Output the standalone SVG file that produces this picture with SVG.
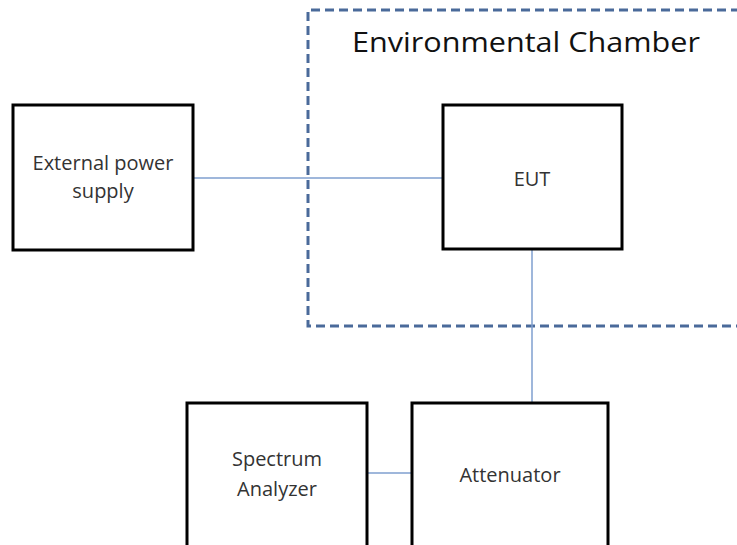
<svg xmlns="http://www.w3.org/2000/svg" width="737" height="545" viewBox="0 0 737 545">
<style>
.box{fill:#fff;stroke:#000;stroke-width:3}
.lbl{font-family:"Open Sans","Liberation Sans",sans-serif;font-size:20px;fill:#333;text-anchor:middle}
.conn{stroke:#7f9fcf;stroke-width:1.5;fill:none}
</style>
<rect width="737" height="545" fill="#fff"/>
<g id="chamber">
<path d="M740 10 H308 V326 H740" fill="none" stroke="#4a6a9a" stroke-width="3" stroke-dasharray="9,5"/>
<text x="526" y="52" font-family="Open Sans,Liberation Sans,sans-serif" font-size="27" fill="#111" text-anchor="middle" textLength="348" lengthAdjust="spacingAndGlyphs">Environmental Chamber</text>
</g>
<g id="connectors">
<line class="conn" x1="193" y1="178" x2="443" y2="178"/>
<line class="conn" x1="532" y1="249" x2="532" y2="403"/>
<line class="conn" x1="367" y1="473" x2="412" y2="473"/>
</g>
<g id="power">
<rect class="box" x="13" y="105" width="180" height="145"/>
<text class="lbl" x="103" y="170">External power</text>
<text class="lbl" x="103" y="198">supply</text>
</g>
<g id="eut">
<rect class="box" x="443" y="105" width="179" height="144"/>
<text class="lbl" x="532" y="186">EUT</text>
</g>
<g id="analyzer">
<rect class="box" x="187" y="403" width="180" height="150"/>
<text class="lbl" x="277" y="466">Spectrum</text>
<text class="lbl" x="277" y="496">Analyzer</text>
</g>
<g id="attenuator">
<rect class="box" x="412" y="403" width="196" height="150"/>
<text class="lbl" x="510" y="482">Attenuator</text>
</g>
</svg>
